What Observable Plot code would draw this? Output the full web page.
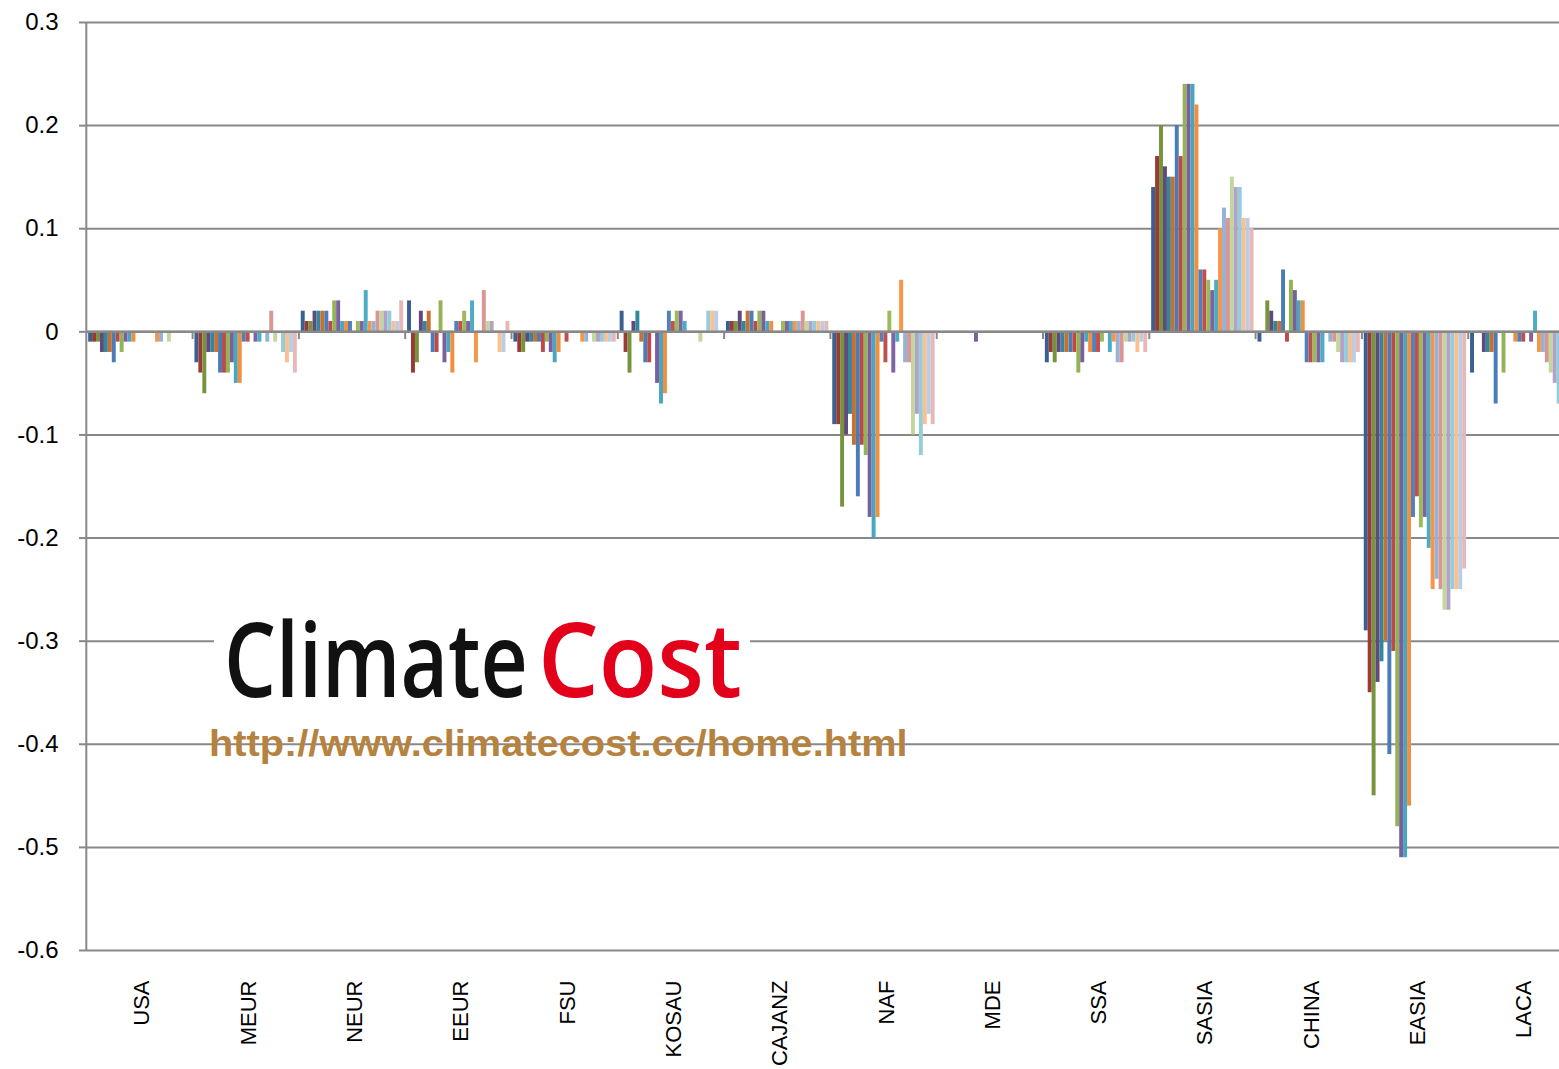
<!DOCTYPE html>
<html>
<head>
<meta charset="utf-8">
<script src="https://cdn.jsdelivr.net/npm/d3@7"></script>
<script src="https://cdn.jsdelivr.net/npm/@observablehq/plot@0.6"></script>
<style>
html, body { margin: 0; padding: 0; background: #fff; overflow: hidden; width: 1559px; height: 1069px; }
#wrap { position: relative; width: 1559px; height: 1069px; }
#overlay { position: absolute; left: 0; top: 0; pointer-events: none; }
</style>
</head>
<body>
<div id="wrap"></div>
<script>
// Categories (regions)
const regions = ["USA","MEUR","NEUR","EEUR","FSU","KOSAU","CAJANZ","NAF","MDE","SSA","SASIA","CHINA","EASIA","LACA"];

// Y-axis tick values
const yTicks = [0.3, 0.2, 0.1, 0, -0.1, -0.2, -0.3, -0.4, -0.5, -0.6];

// 26 series colours (Excel palette order as drawn)
const seriesColors = [
  "#3B5F8F","#993A37","#77933C","#5F4A7B","#33869D","#C8712F",
  "#4A7CB8","#BC4B48","#94B356","#7B5F9D","#47A6C0","#F28F3F",
  "#4F81BD","#C0504D","#9BBB59","#8064A2","#4BACC6","#F79646",
  "#95B3D7","#D99694","#C3D69B","#B3A2C7","#93CDDD","#FAC090","#B9CDE5","#E6B9B8"
];

// Series values per region (26 series each)
const valsUSA    = [-0.01,-0.01,-0.01,-0.02,-0.02,-0.02,-0.03,-0.01,-0.02,-0.01,-0.01,-0.01,0,0,0,0,0,-0.01,-0.01,0,-0.01,0,0,0,0,0];
const valsMEUR   = [-0.03,-0.04,-0.06,-0.02,-0.02,-0.02,-0.04,-0.04,-0.04,-0.03,-0.05,-0.05,-0.01,-0.01,0,-0.01,-0.01,0,-0.01,0.02,-0.01,0,-0.02,-0.03,-0.02,-0.04];
const valsNEUR   = [0.02,0.01,0.01,0.02,0.02,0.02,0.02,0.01,0.03,0.03,0.01,0.01,0.01,0,0.01,0.01,0.04,0.01,0.01,0.02,0.02,0.02,0.02,0.01,0.01,0.03];
const valsEEUR   = [0.03,-0.04,-0.03,0.02,0.01,0.02,-0.02,-0.02,0.03,-0.03,-0.02,-0.04,0.01,0.01,0.02,0.01,0.03,-0.03,0,0.04,0.01,0.01,0,-0.02,-0.02,0.01];
const valsFSU    = [-0.01,-0.02,-0.02,-0.01,-0.01,-0.01,-0.01,-0.02,-0.01,-0.02,-0.03,-0.02,0,-0.01,0,0,0,-0.01,-0.01,0,-0.01,-0.01,-0.01,-0.01,-0.01,-0.01];
const valsKOSAU  = [0.02,-0.02,-0.04,0.01,0.02,-0.01,-0.03,-0.03,0,-0.05,-0.07,-0.06,0.02,0.01,0.02,0.02,0.01,0,0,0,-0.01,0,0.02,0.02,0.02,0];
const valsCAJANZ = [0.01,0.01,0.01,0.02,0.01,0.02,0.02,0.01,0.02,0.02,0.01,0.01,0,0,0.01,0.01,0.01,0.01,0.01,0.02,0.01,0.01,0.01,0.01,0.01,0.01];
const valsNAF    = [-0.09,-0.09,-0.17,-0.10,-0.08,-0.11,-0.16,-0.11,-0.12,-0.18,-0.20,-0.18,-0.01,-0.03,0.02,-0.04,-0.01,0.05,-0.03,-0.03,-0.10,-0.08,-0.12,-0.09,-0.08,-0.09];
const valsMDE    = [0,0,0,0,0,0,0,0,0,-0.01,0,0,0,0,0,0,0,0,0,0,0,0,0,0,0,0];
const valsSSA    = [-0.03,-0.02,-0.03,-0.02,-0.02,-0.02,-0.02,-0.02,-0.04,-0.03,-0.01,-0.02,-0.02,-0.02,-0.01,0,-0.02,-0.01,-0.03,-0.03,-0.01,-0.01,-0.01,-0.02,-0.01,-0.02];
const valsSASIA  = [0.14,0.17,0.20,0.16,0.15,0.15,0.20,0.17,0.24,0.24,0.24,0.22,0.06,0.06,0.05,0.04,0.05,0.10,0.12,0.11,0.15,0.14,0.14,0.11,0.11,0.10];
const valsCHINA  = [-0.01,0,0.03,0.02,0.01,0.01,0.06,-0.01,0.05,0.04,0.03,0.03,-0.03,-0.03,-0.03,-0.03,-0.03,0,-0.01,-0.01,-0.02,-0.03,-0.03,-0.03,-0.03,-0.02];
const valsEASIA  = [-0.29,-0.35,-0.45,-0.34,-0.32,-0.30,-0.41,-0.31,-0.48,-0.51,-0.51,-0.46,-0.18,-0.16,-0.19,-0.18,-0.21,-0.25,-0.24,-0.25,-0.27,-0.27,-0.25,-0.25,-0.25,-0.23];
const valsLACA   = [-0.04,0,0,-0.02,-0.02,-0.02,-0.07,0,-0.04,0,0,-0.01,-0.01,-0.01,0,-0.01,0.02,-0.02,-0.02,-0.03,-0.04,-0.05,-0.07,-0.05,-0.04,-0.03];

const regionValues = [valsUSA, valsMEUR, valsNEUR, valsEEUR, valsFSU, valsKOSAU, valsCAJANZ,
  valsNAF, valsMDE, valsSSA, valsSASIA, valsCHINA, valsEASIA, valsLACA];

const nSlots = seriesColors.length + 1; // one slot of gap per category
const rows = [];
regionValues.forEach((vals, r) => vals.forEach((v, i) => {
  if (v !== 0) rows.push({region: regions[r], r, i, value: v, color: seriesColors[i]});
}));

const grey = "#888888";

const chart = Plot.plot({
  width: 1559,
  height: 1069,
  marginLeft: 86,
  marginRight: 0,
  marginTop: 22,
  marginBottom: 119,
  x: {domain: [0, regions.length], range: [85.8, 1574], axis: null},
  y: {domain: [-0.6, 0.3], axis: null},
  color: {type: "identity"},
  style: {fontFamily: "'Liberation Sans', Arial, sans-serif", background: "#fff", overflow: "hidden", color: "#000"},
  marks: [
    Plot.ruleY(yTicks, {stroke: grey, strokeWidth: 2}),
    Plot.rect(rows, {
      x1: d => d.r + (0.6 + d.i) / nSlots,
      x2: d => d.r + (1.6 + d.i) / nSlots,
      y1: d => 0,
      y2: "value",
      fill: "color"
    }),
    Plot.ruleY([0], {stroke: grey, strokeWidth: 2.5}),
    Plot.ruleX(d3.range(1, regions.length), {y1: 0, y2: -0.0075, stroke: grey, strokeWidth: 2}),
    Plot.ruleX([0], {y1: -0.6, y2: 0.3, stroke: grey, strokeWidth: 2}),
    Plot.axisY({ticks: yTicks, tickSize: 7, tickPadding: 21, tickFormat: d => String(d), label: null,
      fontSize: 24, stroke: grey, strokeWidth: 2, fill: "#000"}),
    Plot.text(regions, {x: (d, i) => i + 0.5, y: -0.6, dy: 30, dx: 3, rotate: -90,
      textAnchor: "end", fontSize: 22, fill: "#000"})
  ]
});

const wrap = document.getElementById("wrap");
wrap.appendChild(chart);

// Watermark overlay (logo + URL), each word scaled to its measured width
const ov = d3.select("#wrap").append("svg").attr("id", "overlay")
  .attr("width", 1559).attr("height", 1069);
ov.append("rect").attr("x", 214).attr("y", 598).attr("width", 536).attr("height", 108).attr("fill", "#fff");

function fitText(str, x, y, targetWidth, opts) {
  const t = ov.append("text").attr("x", 0).attr("y", 0)
    .attr("font-family", opts.family).attr("font-weight", opts.weight)
    .attr("font-size", opts.size).attr("fill", opts.fill).text(str);
  const w = t.node().getComputedTextLength() || targetWidth;
  t.attr("transform", `translate(${x},${y}) scale(${targetWidth / w},1)`);
  return t;
}
const logoFont = {family: "'Open Sans', 'DejaVu Sans', sans-serif", weight: 600, size: 104};
fitText("Climate", 224, 697, 304, {...logoFont, fill: "#111"});
fitText("Cost", 538, 697, 204, {...logoFont, fill: "#E3001B"});
fitText("http://www.climatecost.cc/home.html", 209, 756, 699,
  {family: "'Liberation Sans', Arial, sans-serif", weight: 700, size: 37, fill: "#B5833F"});
</script>
</body>
</html>
